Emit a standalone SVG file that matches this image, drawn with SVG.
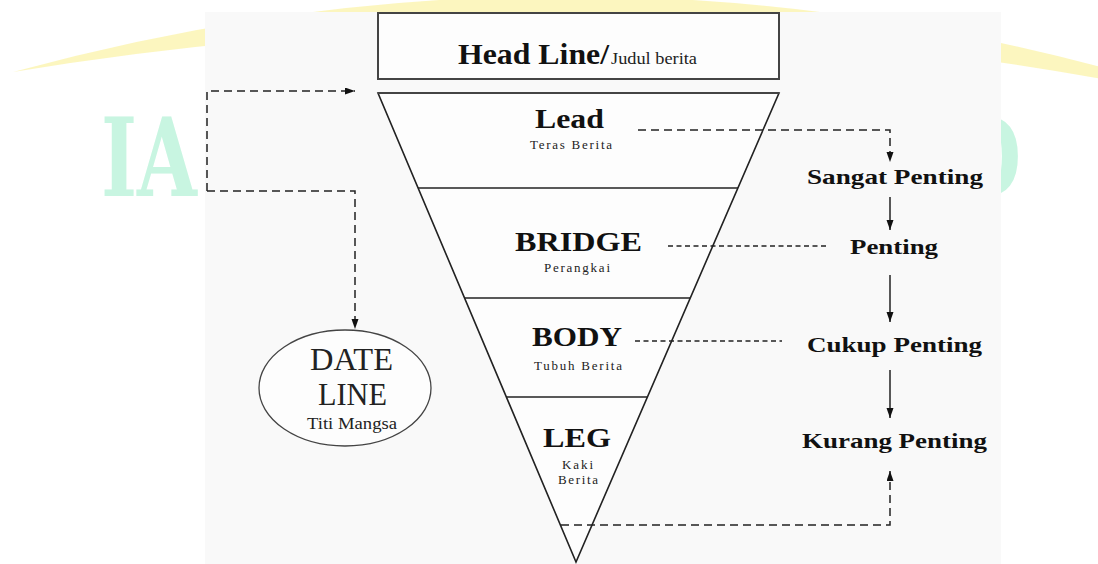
<svg xmlns="http://www.w3.org/2000/svg" width="1098" height="564" viewBox="0 0 1098 564">
<style>
.b{font-family:"Liberation Serif","Times New Roman",serif;font-weight:bold;fill:#111}
.r{font-family:"Liberation Serif","Times New Roman",serif;fill:#222}
.wm{font-family:"DejaVu Serif",serif;font-weight:bold;fill:#c8f5e1}
.ln{fill:none;stroke:#222;stroke-width:1.5}
.dl{fill:none;stroke:#222;stroke-width:1.5;stroke-dasharray:8 5}
.ds{fill:none;stroke:#222;stroke-width:1.3;stroke-dasharray:5 3.5}
</style>
<defs>
<marker id="ah" markerUnits="userSpaceOnUse" markerWidth="10" markerHeight="8" refX="10" refY="3.5" orient="auto">
<path d="M0,0 L10,3.5 L0,7 z" fill="#111"/>
</marker>
</defs>
<rect width="1098" height="564" fill="#ffffff"/>
<g id="watermark">
<path d="M13,72 Q566,-80 1119,72 L1119,82 Q566,-20 13,72 z" fill="#fbf4b4" opacity="0.85"/>
<text class="wm" x="101" y="196" font-size="108" textLength="96" lengthAdjust="spacingAndGlyphs">IA</text>
<text class="wm" x="955" y="196" font-size="108" textLength="66" lengthAdjust="spacingAndGlyphs">D</text>
</g>
<rect id="panel" x="205" y="12" width="796" height="552" fill="#f9f9f9"/>
<g id="headline">
<rect x="378" y="13" width="401" height="66" fill="#fdfdfd" stroke="#444" stroke-width="2"/>
<text class="b" x="458" y="64" font-size="29" textLength="151" lengthAdjust="spacingAndGlyphs">Head Line/</text>
<text class="r" x="611" y="64" font-size="17" textLength="86" lengthAdjust="spacingAndGlyphs">Judul berita</text>
</g>
<g id="pyramid">
<polygon points="378,93 779,93 576,562" fill="#fdfdfd" stroke="#222" stroke-width="1.6" stroke-linejoin="miter"/>
<line x1="378" y1="93" x2="779" y2="93" stroke="#444" stroke-width="2"/>
</g>
<g id="lead">
<line x1="418" y1="188" x2="738" y2="188" stroke="#222" stroke-width="1.6"/>
<text class="b" x="535" y="128" font-size="28" textLength="69" lengthAdjust="spacingAndGlyphs">Lead</text>
<text class="r" x="530" y="149" font-size="13" textLength="82" lengthAdjust="spacing">Teras Berita</text>
</g>
<g id="bridge">
<line x1="465" y1="298" x2="690" y2="298" stroke="#222" stroke-width="1.6"/>
<text class="b" x="515" y="251" font-size="28" textLength="127" lengthAdjust="spacingAndGlyphs">BRIDGE</text>
<text class="r" x="544" y="272" font-size="13" textLength="66" lengthAdjust="spacing">Perangkai</text>
</g>
<g id="body">
<line x1="506" y1="397" x2="647" y2="397" stroke="#222" stroke-width="1.6"/>
<text class="b" x="532" y="346" font-size="28" textLength="90" lengthAdjust="spacingAndGlyphs">BODY</text>
<text class="r" x="534" y="370" font-size="13" textLength="88" lengthAdjust="spacing">Tubuh Berita</text>
</g>
<g id="leg">
<text class="b" x="543" y="447" font-size="28" textLength="68" lengthAdjust="spacingAndGlyphs">LEG</text>
<text class="r" x="562" y="469" font-size="13" textLength="31" lengthAdjust="spacing">Kaki</text>
<text class="r" x="558" y="484" font-size="13" textLength="40" lengthAdjust="spacing">Berita</text>
</g>
<g id="dateline">
<ellipse cx="345" cy="388" rx="86" ry="58" fill="#fdfdfd" stroke="#444" stroke-width="1.3"/>
<text class="r" x="310" y="370" font-size="31" textLength="83" lengthAdjust="spacingAndGlyphs">DATE</text>
<text class="r" x="318" y="405" font-size="31" textLength="69" lengthAdjust="spacingAndGlyphs">LINE</text>
<text class="r" x="307" y="429" font-size="17" textLength="90" lengthAdjust="spacingAndGlyphs">Titi Mangsa</text>
</g>
<g id="sangat">
<text class="b" x="807" y="184" font-size="22" textLength="176" lengthAdjust="spacingAndGlyphs">Sangat Penting</text>
</g>
<g id="penting">
<text class="b" x="850" y="254" font-size="22" textLength="88" lengthAdjust="spacingAndGlyphs">Penting</text>
</g>
<g id="cukup">
<text class="b" x="807" y="352" font-size="22" textLength="175" lengthAdjust="spacingAndGlyphs">Cukup Penting</text>
</g>
<g id="kurang">
<text class="b" x="802" y="448" font-size="22" textLength="185" lengthAdjust="spacingAndGlyphs">Kurang Penting</text>
</g>
<g id="connectors">
<path class="dl" d="M207,191 V91 H355" marker-end="url(#ah)"/>
<path class="dl" d="M207,191 H355 V329" marker-end="url(#ah)"/>
<path class="dl" d="M638,130 H890 V162" marker-end="url(#ah)"/>
<path class="ln" d="M890,197 V230" marker-end="url(#ah)"/>
<path class="ds" d="M668,246 H828"/>
<path class="ln" d="M890,275 V322" marker-end="url(#ah)"/>
<path class="ds" d="M635,341 H782"/>
<path class="ln" d="M890,370 V418" marker-end="url(#ah)"/>
<path class="dl" d="M561,525 H890 V471" marker-end="url(#ah)"/>
</g>
</svg>
